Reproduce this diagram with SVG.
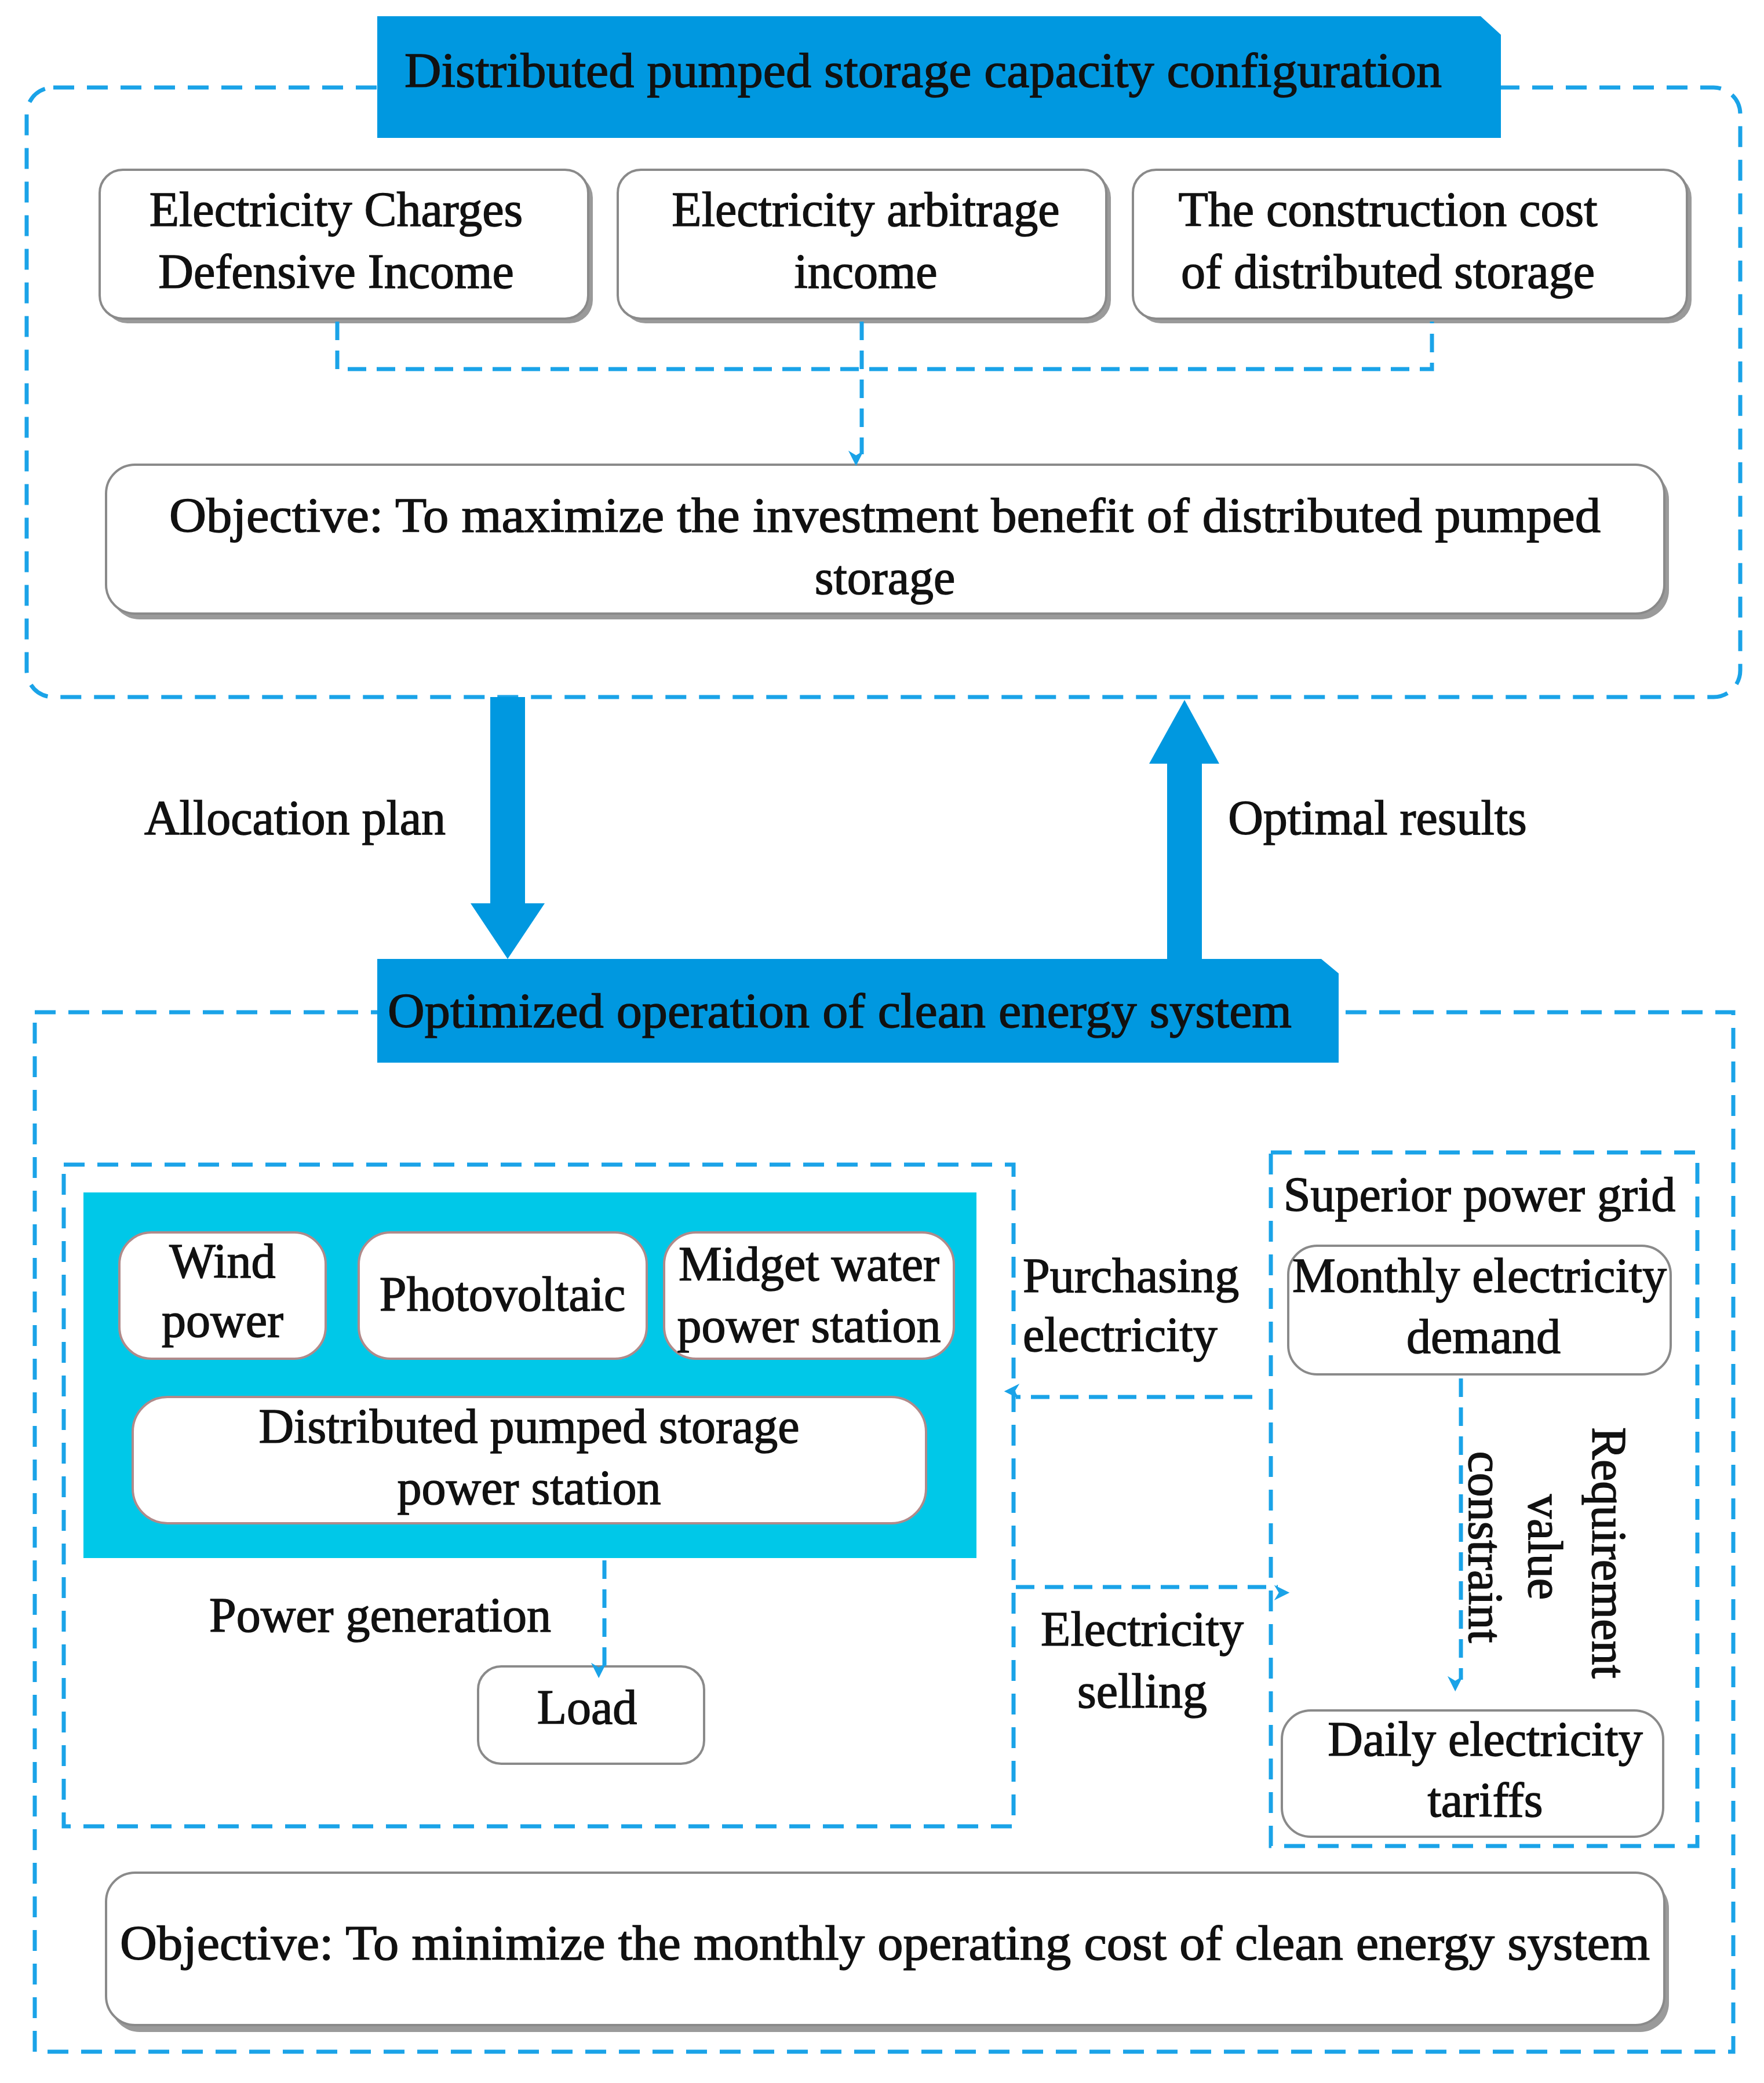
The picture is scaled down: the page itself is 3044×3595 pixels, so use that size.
<svg xmlns="http://www.w3.org/2000/svg" width="3044" height="3595" viewBox="0 0 3044 3595">
<style>
text{font-family:"Liberation Serif","DejaVu Serif",serif;font-size:84px;fill:#111;stroke:#111;stroke-width:1.5;text-anchor:middle}
.dash{fill:none;stroke:#1AA3E8;stroke-width:7;stroke-dasharray:36 22}
.box{fill:#fff;stroke:#8a8a8a;stroke-width:4}
.sh{fill:#9a9a9a}
.pbox{fill:#fff;stroke:#b08a8a;stroke-width:4}
.title{fill:#0098E0}
.con{fill:none;stroke:#1AA3E8;stroke-width:7;stroke-dasharray:32 18}
</style>
<defs>
<marker id="ah" viewBox="0 0 10 10" refX="9" refY="5" markerWidth="7" markerHeight="7" orient="auto" markerUnits="userSpaceOnUse" style="overflow:visible">
<path d="M0,0 L10,5 L0,10 L3,5 Z" fill="#1AA3E8" transform="scale(3.8)"/>
</marker>
</defs>
<rect width="3044" height="3595" fill="#fff"/>
<g id="top-container">
<rect class="dash" x="46" y="151" width="2957" height="1052" rx="46"/>
<path class="title" d="M651,28 H2555 L2590,60 V238 H651 Z"/>
<text x="1593" y="150" textLength="1790" lengthAdjust="spacingAndGlyphs">Distributed pumped storage capacity configuration</text>
</g>
<g id="n-charges">
<rect class="sh" x="180" y="301" width="843" height="257" rx="40"/>
<rect class="box" x="172" y="293" width="843" height="257" rx="40"/>
<text x="580" y="390">Electricity Charges</text><text x="580" y="497">Defensive Income</text>
</g>
<g id="n-arbitrage">
<rect class="sh" x="1074" y="301" width="843" height="257" rx="40"/>
<rect class="box" x="1066" y="293" width="843" height="257" rx="40"/>
<text x="1494" y="390">Electricity arbitrage</text><text x="1494" y="497">income</text>
</g>
<g id="n-cost">
<rect class="sh" x="1963" y="301" width="956" height="257" rx="40"/>
<rect class="box" x="1955" y="293" width="956" height="257" rx="40"/>
<text x="2395" y="390">The construction cost</text><text x="2395" y="497">of distributed storage</text>
</g>
<g id="n-obj1">
<rect class="sh" x="191" y="812" width="2689" height="257" rx="50"/>
<rect class="box" x="183" y="802" width="2689" height="257" rx="50"/>
<text x="1527" y="918" textLength="2470" lengthAdjust="spacingAndGlyphs">Objective: To maximize the investment benefit of distributed pumped</text>
<text x="1527" y="1025">storage</text>
</g>
<g id="bottom-container">
<rect class="dash" x="60" y="1747" width="2931" height="1794"/>
<path class="title" d="M651,1655 H2280 L2310,1680 V1834 H651 Z"/>
<text x="669" y="1773" style="text-anchor:start" textLength="1560" lengthAdjust="spacingAndGlyphs">Optimized operation of clean energy system</text>
</g>
<g id="left-group">
<rect class="dash" x="110" y="2010" width="1639" height="1142"/>
<rect x="144" y="2058" width="1541" height="631" fill="#00C8E8"/>
</g>
<g id="n-wind"><rect class="pbox" x="206" y="2127" width="356" height="218" rx="55"/><text x="384" y="2205">Wind</text><text x="384" y="2307">power</text></g>
<g id="n-pv"><rect class="pbox" x="619" y="2127" width="497" height="218" rx="55"/><text x="867" y="2262">Photovoltaic</text></g>
<g id="n-midget"><rect class="pbox" x="1146" y="2127" width="500" height="218" rx="55"/><text x="1396" y="2210">Midget water</text><text x="1396" y="2316">power station</text></g>
<g id="n-dps"><rect class="pbox" x="229" y="2411" width="1369" height="218" rx="60"/><text x="913" y="2490">Distributed pumped storage</text><text x="913" y="2596">power station</text></g>
<g id="n-load"><rect class="box" x="825" y="2876" width="390" height="168" rx="40"/><text x="1013" y="2975">Load</text></g>
<g id="right-group">
<rect class="dash" x="2193" y="1989" width="736" height="1197"/>
<text x="2553" y="2090">Superior power grid</text>
</g>
<g id="n-monthly"><rect class="box" x="2223" y="2150" width="660" height="222" rx="50"/><text x="2553" y="2230">Monthly electricity</text><text x="2560" y="2335">demand</text></g>
<g id="n-daily"><rect class="box" x="2212" y="2952" width="658" height="218" rx="50"/><text x="2563" y="3030">Daily electricity</text><text x="2563" y="3135">tariffs</text></g>
<g id="n-obj2">
<rect class="sh" x="191" y="3244" width="2689" height="263" rx="50"/>
<rect class="box" x="183" y="3232" width="2689" height="263" rx="50"/>
<text x="1527" y="3382" textLength="2640" lengthAdjust="spacingAndGlyphs">Objective: To minimize the monthly operating cost of clean energy system</text>
</g>
<g id="connectors">
<path class="con" d="M582,555 V637 H2471 V555"/>
<path class="con" d="M1487,555 V784" marker-end="url(#ah)"/>
<path d="M846,1203 H906 V1559 H940 L876,1655 L812,1559 H846 Z" fill="#0098E0"/>
<path d="M2014,1655 V1318 H1983 L2044,1208 L2104,1318 H2074 V1655 Z" fill="#0098E0"/>
<text x="509" y="1440">Allocation plan</text>
<text x="2377" y="1440">Optimal results</text>
<path class="con" d="M2161,2411 H1753" marker-end="url(#ah)"/>
<text x="1765" y="2230" style="text-anchor:start">Purchasing</text>
<text x="1765" y="2332" style="text-anchor:start">electricity</text>
<path class="con" d="M1753,2739 H2205" marker-end="url(#ah)"/>
<text x="1971" y="2840">Electricity</text>
<text x="1971" y="2947">selling</text>
<path class="con" d="M1043,2693 V2876" marker-end="url(#ah)"/>
<text x="656" y="2816">Power generation</text>
<path class="con" d="M2521,2379 V2899" marker-end="url(#ah)"/>
<text transform="translate(2535,2670) rotate(90)">constraint</text>
<text transform="translate(2638,2670) rotate(90)">value</text>
<text transform="translate(2748,2680) rotate(90)">Requirement</text>
</g>
</svg>
